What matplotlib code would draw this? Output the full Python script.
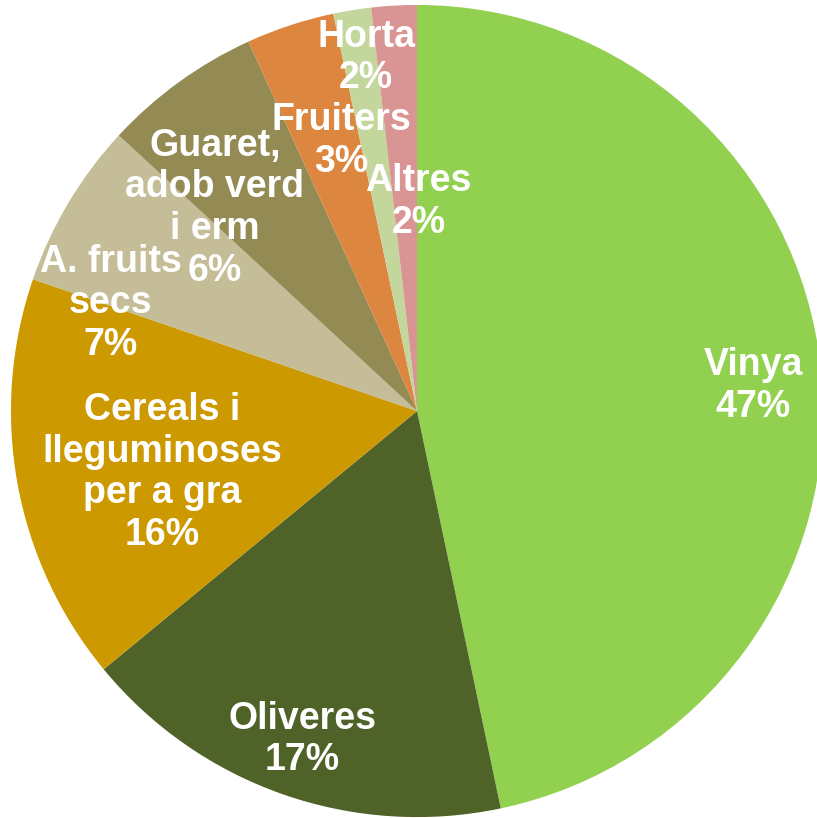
import matplotlib
matplotlib.use("Agg")
import matplotlib.pyplot as plt
import numpy as np

# Share of cultivated surface
categories = ["Vinya", "Oliveres", "Cereals i\nlleguminoses\nper a gra", "A. fruits\nsecs",
              "Guaret,\nadob verd\ni erm", "Fruiters", "Horta", "Altres"]
values = [46.6, 17.3, 16.2, 6.6, 6.3, 3.5, 1.5, 1.8]
pct_labels = ["47%", "17%", "16%", "7%", "6%", "3%", "2%", "2%"]

colors = ["#92D050", "#4F6228", "#CC9900", "#C4BD97", "#948A54", "#DD8640", "#C3D69B", "#D99594"]

# label placement: radius (fraction of pie radius) and angle tweak in degrees
lab_r = [0.83, 0.857, 0.645, 0.80, 0.705, 0.69, 0.88, 0.515]
lab_dang = [-1.7, 0.0, 3.3, 11.5, 9.0, -2.6, -1.0, -3.7]

fig = plt.figure(figsize=(8.17, 8.18), dpi=100)
ax = fig.add_axes([0, 0, 1, 1])
ax.set_axis_off()

wedges, _ = ax.pie(values, colors=colors, startangle=90, counterclock=False,
                   radius=1.0, wedgeprops=dict(linewidth=0))

for w, name, pct, r, da in zip(wedges, categories, pct_labels, lab_r, lab_dang):
    ang = np.deg2rad((w.theta1 + w.theta2) / 2.0 + da)
    ax.text(r * np.cos(ang), r * np.sin(ang), name + "\n" + pct,
            ha="center", va="center", color="white", fontsize=27,
            fontweight="bold", family="Liberation Sans", linespacing=1.2)

ax.set_xlim(-1.027, 0.985)
ax.set_ylim(-1.002, 1.012)
ax.set_aspect("equal")

fig.savefig("out.png", dpi=100)
